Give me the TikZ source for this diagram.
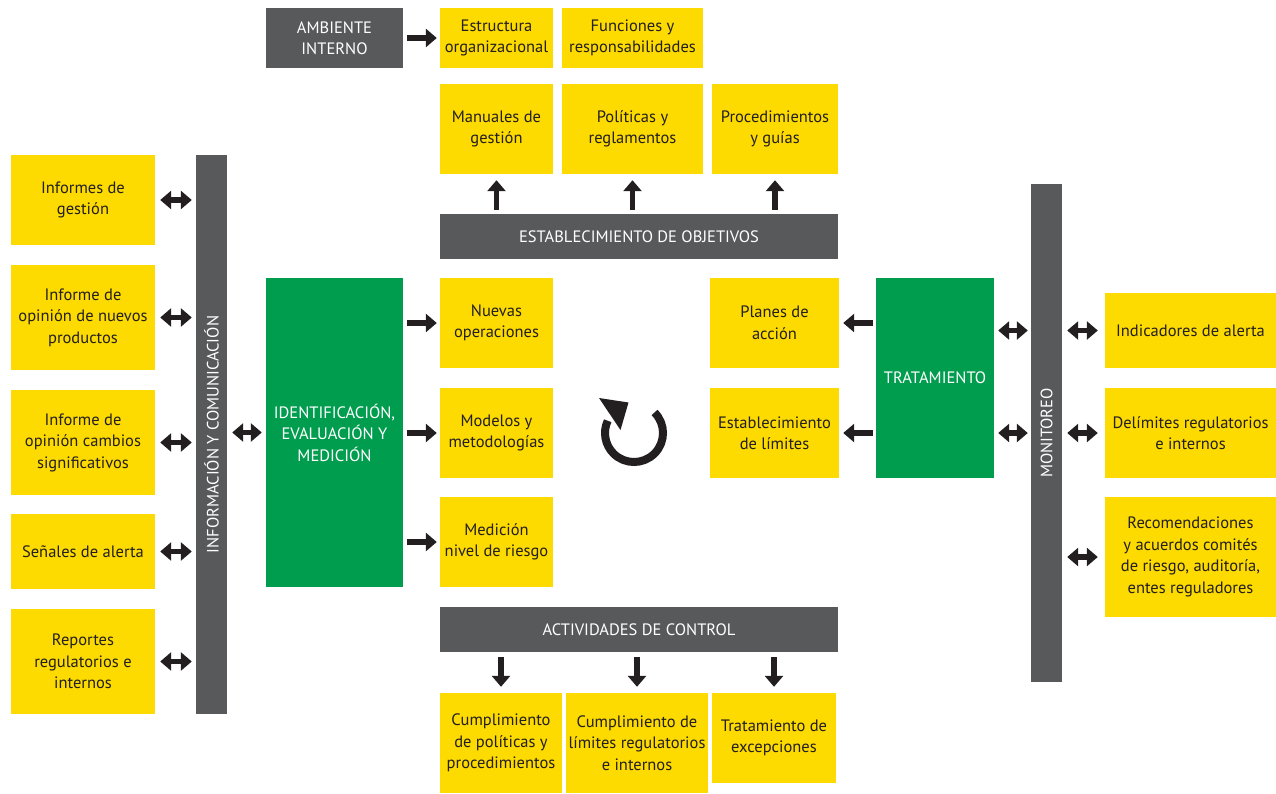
\documentclass[tikz,border=0pt]{standalone}
\usepackage{fontspec}
\setmainfont{PT Sans}
\usetikzlibrary{arrows.meta}
\usetikzlibrary{positioning}

\definecolor{amarillo}{HTML}{FDDA00}
\definecolor{gris}{HTML}{58595B}
\definecolor{verde}{HTML}{009D4F}
\definecolor{tinta}{HTML}{231F20}

\begin{document}
\begin{tikzpicture}[x=1pt,y=-1pt,
  caja/.style={fill=amarillo,text=tinta,align=center,inner sep=0pt,font=\fontsize{16.5}{21.5}\selectfont},
  barra/.style={fill=gris,text=white,align=center,inner sep=0pt,font=\fontsize{16.5}{21.5}\selectfont},
  bloque/.style={fill=verde,text=white,align=center,inner sep=0pt,font=\fontsize{16.5}{21.5}\selectfont},
  flecha/.style={draw=tinta,line width=5.5pt,-{Triangle[width=18pt,length=11pt]}},
  doble/.style={draw=tinta,line width=5.5pt,{Triangle[width=18pt,length=11pt]}-{Triangle[width=18pt,length=11pt]}}]
\useasboundingbox (0,0) rectangle (1276,793);

% columna izquierda
\node[caja,minimum width=144pt,minimum height=90pt] (ig) at (83,200) {Informes de\\gestión};
\node[caja,minimum width=144pt,minimum height=105pt] (inp) at (83,317.5) {Informe de\\opinión de nuevos\\productos};
\node[caja,minimum width=144pt,minimum height=105pt] (icm) at (83,442.5) {Informe de\\opinión cambios\\significativos};
\node[caja,minimum width=144pt,minimum height=75pt] (sa) at (83,551.5) {Señales de alerta};
\node[caja,minimum width=144pt,minimum height=105pt] (rri) at (83,661.5) {Reportes\\regulatorios e\\internos};
\node[barra,minimum width=559pt,minimum height=31pt,rotate=90] (info) at (211.5,434.5) {INFORMACIÓN Y COMUNICACIÓN};

% identificacion
\node[bloque,minimum width=137pt,minimum height=309pt] (ident) at (334.5,432.5) {IDENTIFICACIÓN,\\EVALUACIÓN Y\\MEDICIÓN};
\node[caja,minimum width=113pt,minimum height=90pt] (no) at (496.5,323) {Nuevas\\operaciones};
\node[caja,minimum width=113pt,minimum height=90pt] (mm) at (496.5,433) {Modelos y\\metodologías};
\node[caja,minimum width=113pt,minimum height=90pt] (mnr) at (496.5,542) {Medición\\nivel de riesgo};

% parte de arriba
\node[barra,minimum width=137pt,minimum height=60pt] (amb) at (334.5,38) {AMBIENTE\\INTERNO};
\node[caja,minimum width=113pt,minimum height=60pt] (eo) at (496.5,38) {Estructura\\organizacional};
\node[caja,minimum width=141pt,minimum height=60pt] (fr) at (632.5,38) {Funciones y\\responsabilidades};
\node[caja,minimum width=113pt,minimum height=90pt] (mg) at (496.5,129) {Manuales de\\gestión};
\node[caja,minimum width=141pt,minimum height=90pt] (pr) at (632.5,129) {Políticas y\\reglamentos};
\node[caja,minimum width=126pt,minimum height=90pt] (pg) at (775,129) {Procedimientos\\y guías};
\node[barra,minimum width=398pt,minimum height=45pt] (obj) at (639,236.5) {ESTABLECIMIENTO DE OBJETIVOS};

% parte de abajo
\node[barra,minimum width=398pt,minimum height=45pt] (act) at (639,629.5) {ACTIVIDADES DE CONTROL};
\node[caja,minimum width=122pt,minimum height=100pt] (cpp) at (501,743) {Cumplimiento\\de políticas y\\procedimientos};
\node[caja,minimum width=142pt,minimum height=100pt] (cli) at (637,743) {Cumplimiento de\\límites regulatorios\\e internos};
\node[caja,minimum width=124pt,minimum height=90pt] (te) at (774,738) {Tratamiento de\\excepciones};

% tratamiento
\node[caja,minimum width=129pt,minimum height=90pt] (pa) at (774.5,323) {Planes de\\acción};
\node[caja,minimum width=129pt,minimum height=90pt] (el) at (774.5,433) {Establecimiento\\de límites};
\node[bloque,minimum width=118pt,minimum height=200pt] (trat) at (935,378) {TRATAMIENTO};

% monitoreo
\node[barra,minimum width=498pt,minimum height=31pt,rotate=90] (mon) at (1046.5,433) {MONITOREO};
\node[caja,minimum width=171pt,minimum height=75pt] (ia) at (1190.5,330.5) {Indicadores de alerta};
\node[caja,minimum width=171pt,minimum height=90pt] (drl) at (1190.5,433) {Delímites regulatorios\\e internos};
\node[caja,minimum width=171pt,minimum height=120pt] (rec) at (1190.5,557) {Recomendaciones\\y acuerdos comités\\de riesgo, auditoría,\\entes reguladores};

% flechas
\foreach \n in {ig,inp,icm,sa,rri}
  \draw[doble,shorten <=5pt,shorten >=4pt] (\n.east) -- (\n.east -| info.north);
\draw[doble,shorten <=5pt,shorten >=4pt] (ident.west -| info.south) -- (ident.west);
\foreach \n in {no,mm,mnr}
  \draw[flecha,shorten <=4pt,shorten >=3pt] (\n.west -| ident.east) -- (\n.west);
\draw[flecha,shorten <=4pt,shorten >=3pt] (amb) -- (eo);
\foreach \n in {mg,pr,pg}
  \draw[flecha,shorten <=4pt,shorten >=6pt] (\n.south |- obj.north) -- (\n.south);
\foreach \n in {cpp,cli,te}
  \draw[flecha,shorten <=5pt,shorten >=6pt] (\n.north |- act.south) -- (\n.north);
\foreach \n in {pa,el}
  \draw[flecha,shorten <=3pt,shorten >=4pt] (\n.east -| trat.west) -- (\n.east);
\foreach \n in {ia,drl}
  \draw[doble,shorten <=4pt,shorten >=3pt] (\n.west -| trat.east) -- (\n.west -| mon.north);
\foreach \n in {ia,drl,rec}
  \draw[doble,shorten <=5pt,shorten >=7pt] (\n.west -| mon.south) -- (\n.west);

% ciclo
\coordinate (ciclo) at (634,433);
\draw[tinta,line width=8pt] (ciclo) ++(-45:29) arc[start angle=-45,end angle=205,radius=29];
\fill[tinta] (599,398) -- (628.5,402.5) -- (620.5,430) -- cycle;
\end{tikzpicture}
\end{document}
